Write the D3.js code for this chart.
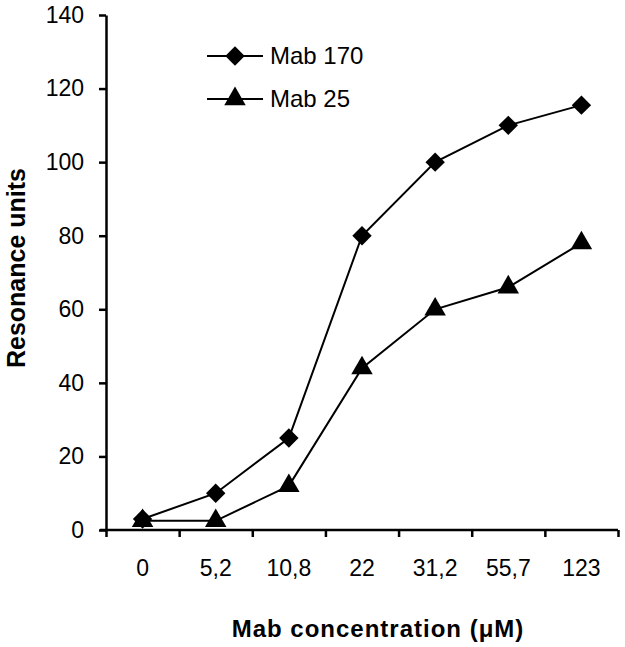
<!DOCTYPE html>
<html lang="en">
<head>
  <meta charset="UTF-8">
  <title>Resonance units vs Mab concentration</title>
  <script src="https://d3js.org/d3.v7.min.js"></script>
  <style>
    body { margin: 0; background: #fff; }
    svg { display: block; font-family: "Liberation Sans", Arial, sans-serif; }
    .axis path, .axis line { stroke: #000; stroke-width: 2.5px; }
    .axis text { font-size: 23px; fill: #000; }
    .line { fill: none; stroke: #000; stroke-width: 2px; }
  </style>
</head>
<body>
  <svg width="625" height="647"></svg>
  <script>
    const concentrations = ["0", "5,2", "10,8", "22", "31,2", "55,7", "123"];
    const mab170 = [3, 10, 25, 80, 100, 110, 115.5];
    const mab25 = [2.5, 2.5, 12, 44, 60, 66, 78];
    const yTicks = [0, 20, 40, 60, 80, 100, 120, 140];

    const svg = d3.select("svg");
    const plotLeft = 106, plotRight = 618, plotTop = 15, plotBottom = 530;

    const x = d3.scaleBand().domain(concentrations).range([plotLeft, plotRight]).padding(0);
    const xEdge = d3.scaleLinear().domain([0, concentrations.length]).range([plotLeft, plotRight]);
    const y = d3.scaleLinear().domain([0, 140]).range([plotBottom, plotTop]);
    const cx = c => x(c) + x.bandwidth() / 2;

    // y axis
    svg.append("g")
      .attr("class", "axis")
      .attr("transform", `translate(${plotLeft},0)`)
      .call(d3.axisLeft(y).tickValues(yTicks).tickSize(7).tickSizeOuter(0).tickPadding(15));

    // x axis: tick marks at category edges
    svg.append("g")
      .attr("class", "axis")
      .attr("transform", `translate(0,${plotBottom})`)
      .call(d3.axisBottom(xEdge).tickValues(d3.range(concentrations.length + 1)).tickSize(7).tickSizeOuter(0).tickFormat(""))
      .call(g => g.select(".domain").attr("d", `M${plotLeft - 6},0H${plotRight}`));

    // x labels centred in categories
    svg.append("g")
      .attr("class", "axis")
      .attr("transform", `translate(0,${plotBottom})`)
      .call(d3.axisBottom(x).tickSize(0).tickPadding(30))
      .call(g => g.select(".domain").remove());

    // axis titles
    svg.append("text")
      .attr("x", 378).attr("y", 637)
      .attr("text-anchor", "middle")
      .attr("font-size", 24).attr("font-weight", "bold")
      .attr("letter-spacing", "1px")
      .text("Mab concentration (μM)");

    svg.append("text")
      .attr("transform", "translate(25,268) rotate(-90)")
      .attr("text-anchor", "middle")
      .attr("font-size", 25).attr("font-weight", "bold")
      .text("Resonance units");

    const line = d3.line().x((d, i) => cx(concentrations[i])).y(d => y(d));
    const diamond = d3.symbol().type(d3.symbolDiamond2).size(240);
    const triangle = d3.symbol().type(d3.symbolTriangle).size(200);

    const series = [
      { name: "Mab 170", values: mab170, symbol: diamond },
      { name: "Mab 25", values: mab25, symbol: triangle }
    ];

    series.forEach(s => {
      svg.append("path").datum(s.values).attr("class", "line").attr("d", line);
      svg.selectAll(null).data(s.values).enter().append("path")
        .attr("transform", (d, i) => `translate(${cx(concentrations[i])},${y(d)})`)
        .attr("d", s.symbol)
        .attr("fill", "#000");
    });

    // legend
    const legend = svg.append("g").attr("transform", "translate(207,56)");
    series.forEach((s, i) => {
      const g = legend.append("g").attr("transform", `translate(0,${i * 43})`);
      g.append("line").attr("x1", 0).attr("x2", 56).attr("stroke", "#000").attr("stroke-width", 2);
      g.append("path").attr("transform", "translate(28,0)").attr("d", s.symbol).attr("fill", "#000");
      g.append("text").attr("x", 63).attr("dy", "0.35em").attr("font-size", 24).text(s.name);
    });
  </script>
</body>
</html>
